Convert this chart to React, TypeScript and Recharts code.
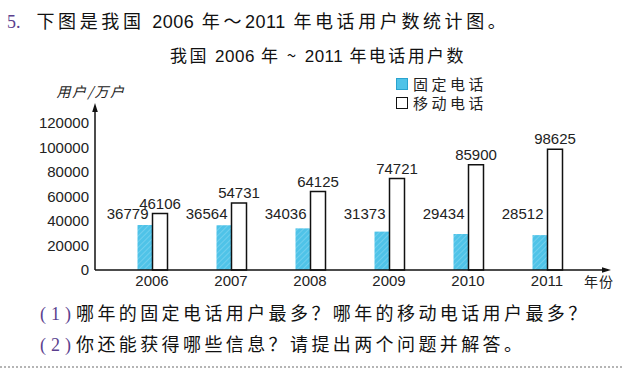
import { Bar, BarChart, LabelList, Legend, XAxis, YAxis } from "recharts";

const years = ["2006", "2007", "2008", "2009", "2010", "2011"];
const fixedUsers = [36779, 36564, 34036, 31373, 29434, 28512];
const mobileUsers = [46106, 54731, 64125, 74721, 85900, 98625];
const yTicks = [0, 20000, 40000, 60000, 80000, 100000, 120000];
const seriesNames = ["固定电话", "移动电话"];

const data = years.map((year, i) => ({
  year,
  fixed: fixedUsers[i],
  mobile: mobileUsers[i],
}));

const CJK = '"Noto Sans CJK SC", "Noto Sans", sans-serif';
const NUM = '"Liberation Sans", Arial, sans-serif';
const PURPLE = "#5b3f8e";

function YAxisDecor(props: any) {
  const vb = props.viewBox;
  if (!vb) return null;
  const ax = vb.x + vb.width;
  const top = vb.y;
  return (
    <g>
      <polygon points={`${ax},${top - 3} ${ax - 2.8},${top + 6} ${ax + 2.8},${top + 6}`} fill="#111" />
      <text x={ax - 4} y={top - 9} textAnchor="middle" fontSize={14} fontFamily={CJK} fill="#222" letterSpacing={1.5} fontStyle="italic">
        用户/万户
      </text>
    </g>
  );
}

function XAxisDecor(props: any) {
  const vb = props.viewBox;
  if (!vb) return null;
  const right = vb.x + vb.width;
  const ay = vb.y;
  return (
    <g>
      <polygon points={`${right + 3},${ay} ${right - 6},${ay - 2.8} ${right - 6},${ay + 2.8}`} fill="#111" />
      <text x={right - 24} y={ay + 17} fontSize={14} fontFamily={CJK} fill="#222" letterSpacing={1}>
        年份
      </text>
    </g>
  );
}

function FixedLabel(props: any) {
  const { x, y, width, height, value } = props;
  const base = Number(y) + Number(height);
  return (
    <text x={Number(x) + Number(width) - 4} y={base - 51} textAnchor="end" fontSize={15} fontFamily={NUM} fill="#222">
      {value}
    </text>
  );
}

function LegendBox() {
  const row = { display: "flex", alignItems: "center", height: 19 } as const;
  const text = { fontFamily: CJK, fontSize: 15, letterSpacing: 3.5, color: "#222", marginLeft: 5 };
  return (
    <div>
      <div style={row}>
        <span style={{ width: 10, height: 10, background: "#4fc3e8", border: "1px solid #2aa3cf" }} />
        <span style={text}>{seriesNames[0]}</span>
      </div>
      <div style={row}>
        <span style={{ width: 10, height: 10, background: "#fff", border: "1.5px solid #111" }} />
        <span style={text}>{seriesNames[1]}</span>
      </div>
    </div>
  );
}

export default function App() {
  return (
    <div style={{ position: "relative", width: 622, height: 372, background: "#fff", overflow: "hidden" }}>
      <style>{`body{margin:0}`}</style>
      <div style={{ position: "absolute", left: 7, top: 7, fontSize: 18, whiteSpace: "nowrap", color: "#111" }}>
        <span style={{ fontFamily: '"Liberation Serif", serif', color: PURPLE, marginRight: 16 }}>5.</span>
        <span style={{ fontFamily: CJK, letterSpacing: 3.6 }}>
          下图是我国 <span style={{ fontFamily: NUM, letterSpacing: 0.5 }}>2006</span> 年～<span style={{ fontFamily: NUM, letterSpacing: 0.5 }}>2011</span> 年电话用户数统计图。
        </span>
      </div>
      <div style={{ position: "absolute", left: 170, top: 42, fontSize: 17, whiteSpace: "nowrap", color: "#111", fontFamily: CJK, letterSpacing: 2.4 }}>
        我国 <span style={{ fontFamily: NUM, letterSpacing: 0.5 }}>2006</span> 年 ~ <span style={{ fontFamily: NUM, letterSpacing: 0.5 }}>2011</span> 年电话用户数
      </div>
      <div style={{ position: "absolute", left: 0, top: 0 }}>
        <BarChart
          width={622}
          height={372}
          data={data}
          margin={{ top: 106, right: 14, bottom: 72, left: 35 }}
          barGap={0}
          barSize={15}
        >
          <defs>
            <pattern id="hatch" patternUnits="userSpaceOnUse" width="4" height="4" patternTransform="rotate(45)">
              <rect width="4" height="4" fill="#4fc3e8" />
              <line x1="0" y1="0" x2="0" y2="4" stroke="#93dbf2" strokeWidth="1" />
            </pattern>
          </defs>
          <XAxis
            dataKey="year"
            interval={0}
            height={30}
            padding={{ left: 17.5, right: 21.5 }}
            tickLine={false}
            tickSize={3}
            tickMargin={2}
            axisLine={{ stroke: "#111", strokeWidth: 1.5 }}
            tick={{ fontSize: 15, fill: "#222", fontFamily: NUM }}
            label={{ content: (p: any) => <XAxisDecor {...p} /> }}
          />
          <YAxis
            type="number"
            domain={[0, 134000]}
            ticks={yTicks}
            width={60}
            tickLine={false}
            tickSize={4}
            tickMargin={2}
            axisLine={{ stroke: "#111", strokeWidth: 1.5 }}
            tick={{ fontSize: 15, fill: "#222", fontFamily: NUM }}
            label={{ content: (p: any) => <YAxisDecor {...p} /> }}
          />
          <Legend
            content={() => <LegendBox />}
            layout="horizontal"
            verticalAlign="middle"
            align="center"
            wrapperStyle={{ position: "absolute", top: 74, left: 396, width: 110, height: 40 }}
          />
          <Bar dataKey="fixed" name={seriesNames[0]} fill="url(#hatch)" isAnimationActive={false}>
            <LabelList dataKey="fixed" content={(p: any) => <FixedLabel {...p} />} />
          </Bar>
          <Bar dataKey="mobile" name={seriesNames[1]} fill="#fff" stroke="#111" strokeWidth={1.5} isAnimationActive={false}>
            <LabelList dataKey="mobile" position="top" offset={5} fontSize={15} fontFamily={NUM} fill="#222" />
          </Bar>
        </BarChart>
      </div>
      <div style={{ position: "absolute", left: 40, top: 298, fontSize: 18, whiteSpace: "nowrap", color: "#111", lineHeight: "29px" }}>
        <div>
          <span style={{ fontFamily: '"Liberation Serif", serif', color: PURPLE, letterSpacing: 5 }}>(1)</span>
          <span style={{ fontFamily: CJK, letterSpacing: 3.4 }}>哪年的固定电话用户最多？哪年的移动电话用户最多？</span>
        </div>
        <div>
          <span style={{ fontFamily: '"Liberation Serif", serif', color: PURPLE, letterSpacing: 5 }}>(2)</span>
          <span style={{ fontFamily: CJK, letterSpacing: 3.4 }}>你还能获得哪些信息？请提出两个问题并解答。</span>
        </div>
      </div>
      <div style={{ position: "absolute", left: 0, right: 0, top: 366, borderTop: "2px dotted #b5b5b5" }} />
    </div>
  );
}
